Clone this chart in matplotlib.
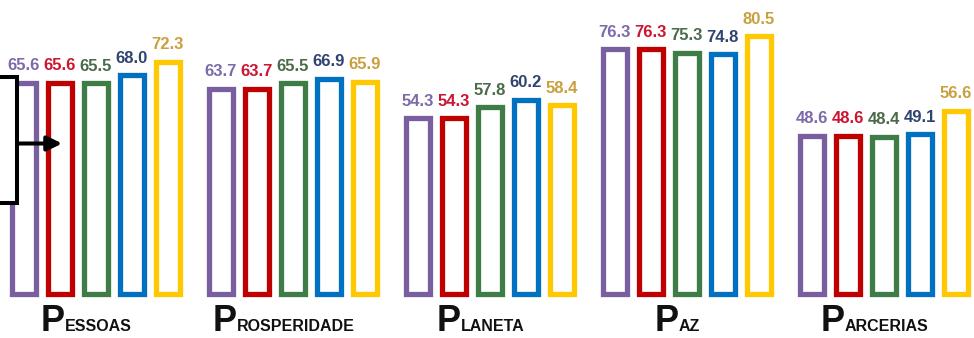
import matplotlib
matplotlib.use("Agg")
import matplotlib.pyplot as plt
from matplotlib.patches import Rectangle

# ---- data ----
cat_initials = ["P", "P", "P", "P", "P"]
cat_rest = ["ESSOAS", "ROSPERIDADE", "LANETA", "AZ", "ARCERIAS"]
series_purple = [65.6, 63.7, 54.3, 76.3, 48.6]
series_red = [65.6, 63.7, 54.3, 76.3, 48.6]
series_green = [65.5, 65.5, 57.8, 75.3, 48.4]
series_blue = [68.0, 66.9, 60.2, 74.8, 49.1]
series_yellow = [72.3, 65.9, 58.4, 80.5, 56.6]

series = [series_purple, series_red, series_green, series_blue, series_yellow]
bar_colors = ["#7A5FA0", "#C00000", "#3E7D45", "#0070C0", "#FFC800"]
label_colors = ["#7E6AAA", "#CC1530", "#4A6B4A", "#2F4470", "#C9A040"]

FONT = "Liberation Sans"
W, H = 974, 338
BASE = -2.1
GROUP0, GROUP_STEP, BAR_STEP = 95.5, 197.0, 36.0

fig = plt.figure(figsize=(W / 100, H / 100), dpi=100)
ax = fig.add_axes([0, 0, 1, 1])
ax.set_xlim(0, W)
ax.set_ylim(-16.06, 92.1)
ax.axis("off")

for j, (vals, bc, lc) in enumerate(zip(series, bar_colors, label_colors)):
    xs = [GROUP0 + GROUP_STEP * i + (j - 2) * BAR_STEP for i in range(len(vals))]
    bars = ax.bar(xs, [v - BASE for v in vals], bottom=BASE, width=24,
                  facecolor="white", edgecolor=bc, linewidth=3.8)
    for b in bars:
        b.set_joinstyle("miter")
    for x, v in zip(xs, vals):
        ax.annotate(f"{v:.1f}", (x, v), xytext=(0, 9.0), textcoords="offset points",
                    ha="center", va="baseline", color=lc, fontsize=12,
                    fontweight="bold", family=FONT, annotation_clip=False)

# overlay in pixel coordinates
ov = fig.add_axes([0, 0, 1, 1])
ov.set_xlim(0, W)
ov.set_ylim(H, 0)
ov.axis("off")
ov.patch.set_alpha(0)

ov.add_patch(Rectangle((-10, 77), 27, 126, facecolor="white", edgecolor="black",
                       linewidth=2.9, joinstyle="miter", zorder=5))
ov.annotate("", xy=(62, 143.5), xytext=(17, 143.5),
            arrowprops=dict(arrowstyle="-|>", lw=2.9, color="black",
                            mutation_scale=22, shrinkA=0, shrinkB=0), zorder=6)

renderer = fig.canvas.get_renderer()
for i, (ini, rest) in enumerate(zip(cat_initials, cat_rest)):
    t1 = ov.text(0, 331, ini, ha="right", va="baseline", fontsize=26,
                 fontweight="bold", family=FONT, color="#111111")
    t2 = ov.text(0, 331, rest, ha="left", va="baseline", fontsize=11.5,
                 fontweight="bold", family=FONT, color="#111111")
    wP = t1.get_window_extent(renderer).width
    wR = t2.get_window_extent(renderer).width
    target = GROUP0 + GROUP_STEP * i - 9
    split = target - (wR - wP) / 2
    t1.set_x(split)
    t2.set_x(split)

fig.savefig("out.png", dpi=100)
